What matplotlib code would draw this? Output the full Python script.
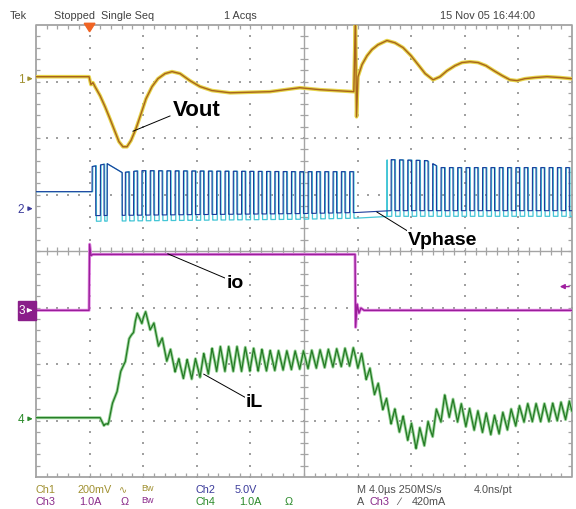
import numpy as np
import matplotlib.pyplot as plt
from matplotlib.collections import LineCollection
from matplotlib.patches import Rectangle, Polygon

# time base: 4.0 us/div, trigger one division from the left edge
t_min, t_max = -4.0, 36.0
us_per_div = 4.0

# Ch1 Vout (mV), 200 mV/div
vout_t = [-4.0, -0.04, 0.10, 0.25, 0.40, 0.78, 1.15, 1.52, 1.90, 2.19, 2.49, 2.79,
          3.09, 3.46, 3.84, 4.21, 4.66, 5.10, 5.63, 6.15, 6.75, 7.49, 8.24, 9.13,
          10.48, 13.46, 15.69, 17.19, 19.72, 19.84, 19.92, 20.03, 20.33, 20.70,
          21.07, 21.52, 22.19, 22.79, 23.39, 23.99, 24.51, 25.04, 25.63, 26.15,
          26.67, 27.27, 27.79, 28.39, 28.99, 29.58, 30.18, 30.78, 31.37, 31.90,
          32.49, 33.24, 34.14, 35.11, 36.0]
vout_mv = [7, 7, -21, -14, -28, -60, -99, -142, -188, -223, -241, -241,
           -219, -177, -124, -71, -28, 0, 18, 25, 18, -7, -28, -42,
           -50, -46, -32, -39, -46, 230, -135, 7, 50, 81,
           103, 120, 135, 127, 110, 81, 50, 18, -4, 7,
           28, 46, 57, 60, 57, 46, 28, 11, -4, -7,
           0, 4, 7, 4, 0]

# Ch3 io (A), 1.0 A/div
io_t = [-4.0, -0.04, 0.0, 0.10, 0.25, 19.81, 19.85, 19.96, 20.10, 20.25, 20.48, 36.0]
io_a = [0.0, 0.0, 1.17, 0.97, 0.99, 0.99, -0.30, 0.11, -0.05, 0.04, 0.0, 0.0]
trig_level = 0.42

# Ch4 iL (A), 1.0 A/div: mean current and half ripple
il_t = [-4.0, 0.78, 1.07, 1.37, 2.64, 3.39, 3.99, 4.51, 5.63, 6.75, 7.87, 9.36,
        11.22, 13.46, 15.69, 19.81, 20.33, 22.42, 24.51, 25.40, 26.52, 28.39,
        30.25, 32.49, 34.36, 36.0]
il_a = [0.02, 0.02, -0.12, -0.07, 1.06, 1.73, 1.82, 1.70, 1.20, 0.88, 0.88, 1.06,
        1.06, 1.03, 1.04, 1.10, 0.99, 0.09, -0.37, -0.21, 0.25, 0.00,
        -0.12, 0.11, 0.11, 0.16]
il_rip = [0.0, 0.0, 0.0, 0.04, 0.07, 0.11, 0.12, 0.12, 0.14, 0.16, 0.18, 0.22,
          0.22, 0.18, 0.16, 0.16, 0.16, 0.16, 0.19, 0.19, 0.18, 0.18,
          0.18, 0.16, 0.16, 0.16]

# Ch2 Vphase (V), 5.0 V/div
vph_idle = 1.5
vph_hi_t = [0.18, 1.31, 2.43, 3.77, 15.69, 19.81, 22.27, 25.18, 26.15, 36.0]
vph_hi_v = [3.72, 3.98, 3.19, 3.36, 3.27, 3.27, 4.34, 4.25, 3.63, 3.63]
vph_lo_t = [0.18, 15.69, 19.81, 22.42, 36.0]
vph_lo_v = [-0.62, -0.44, -0.35, -0.18, -0.18]
sw_period = 0.62
sw_duty = 0.45
sw_start = 0.18
force_high = (1.31, 2.43)
skip_pulses = (20.0, 22.2)

# screen layout: ground marker positions (div) and scales
marks = {1: 3.05, 2: 0.75, 3: -1.05, 4: -2.97}
scales = {1: 200.0, 2: 5.0, 3: 1.0, 4: 1.0}
c_ch1, c_ch2, c_ch3, c_ch4 = '#a09030', '#3a3a9a', '#8a2a8a', '#2a8a2a'

fig = plt.figure(figsize=(5.76, 5.1), dpi=100)
ax = fig.add_axes([36 / 576, 32 / 510, 536 / 576, 452 / 510])
ax.set_xlim(0, 10)
ax.set_ylim(-4, 4)
ax.axis('off')

def xdiv(t):
    return 1 + np.asarray(t) / us_per_div

def ydiv(ch, v):
    return marks[ch] + np.asarray(v) / scales[ch]

# graticule
gc = '#a4a4a4'
ax.plot([0, 10, 10, 0, 0], [-4, -4, 4, 4, -4], color=gc, lw=1.3, zorder=1, clip_on=False)
ax.plot([5, 5], [-4, 4], color=gc, lw=1.0, zorder=1)
ax.plot([0, 10], [0, 0], color=gc, lw=1.0, zorder=1)
dots_x, dots_y = [], []
for gx in range(1, 10):
    if gx == 5:
        continue
    for k in range(41):
        dots_x.append(gx); dots_y.append(-4 + 0.2 * k)
for gy in range(-3, 4):
    if gy == 0:
        continue
    for k in range(51):
        dots_x.append(0.2 * k); dots_y.append(gy)
ax.scatter(dots_x, dots_y, s=0.8, marker='s', color='#a0a0a0', linewidths=0, zorder=1)
segs = []
tx, ty = 0.075, 0.07
for k in range(1, 50):
    x = 0.2 * k
    segs += [[(x, -ty), (x, ty)], [(x, 4), (x, 4 - ty)], [(x, -4), (x, -4 + ty)]]
for k in range(1, 40):
    y = -4 + 0.2 * k
    segs += [[(5 - tx, y), (5 + tx, y)], [(0, y), (tx, y)], [(10, y), (10 - tx, y)]]
ax.add_collection(LineCollection(segs, colors=gc, linewidths=0.9, zorder=1))

# fine time grid for the traces
t = np.arange(t_min, t_max, 0.005)

# Vphase switching node
def vphase(shift, lo_off):
    ph = np.mod(t - sw_start - shift, sw_period) / sw_period
    high = ph < sw_duty
    high[(t >= force_high[0]) & (t < force_high[1])] = True
    high[(t >= skip_pulses[0]) & (t < skip_pulses[1])] = False
    v = np.where(high, np.interp(t, vph_hi_t, vph_hi_v),
                 np.interp(t, vph_lo_t, vph_lo_v) + lo_off)
    v[t < sw_start + shift] = vph_idle
    return v

ax.plot(xdiv(t), ydiv(2, vphase(0.05, -0.5)), color='#45c6d6', lw=0.9, zorder=3)
ax.plot(xdiv(t), ydiv(2, vphase(0.0, 0.0)), color='#1c3c9c', lw=0.8, zorder=3)

# inductor current with ripple
ph = np.mod(t - sw_start, sw_period) / sw_period
tri = np.where(ph < sw_duty, -1 + 2 * ph / sw_duty, 1 - 2 * (ph - sw_duty) / (1 - sw_duty))
il = np.interp(t, il_t, il_a) + np.interp(t, il_t, il_rip) * tri
ax.plot(xdiv(t), ydiv(4, il), color='#9ad49a', lw=2.2, zorder=3)
ax.plot(xdiv(t), ydiv(4, il), color='#247a24', lw=0.9, zorder=3)

ax.plot(xdiv(io_t), ydiv(3, io_a), color='#e28ae2', lw=2.2, zorder=3)
ax.plot(xdiv(io_t), ydiv(3, io_a), color='#9a1e9a', lw=1.0, zorder=3)

ax.plot(xdiv(vout_t), ydiv(1, vout_mv), color='#e6d44a', lw=2.6, zorder=3)
ax.plot(xdiv(vout_t), ydiv(1, vout_mv), color='#a8641c', lw=1.0, zorder=3)

# labels with pointer lines
lab = dict(fontweight='bold', family=['Liberation Sans', 'DejaVu Sans'],
           ha='center', va='center', zorder=6)
box = dict(facecolor='white', edgecolor='none', pad=0.5)
ax.text(2.99, 2.50, 'Vout', fontsize=16, bbox=box, **lab)
ax.plot([1.81, 2.50], [2.12, 2.39], color='black', lw=0.7, zorder=5)
ax.text(7.59, 0.21, 'Vphase', fontsize=14, bbox=box, **lab)
ax.plot([6.36, 6.94], [0.69, 0.35], color='black', lw=0.7, zorder=5)
ax.text(3.71, -0.55, 'io', fontsize=14, bbox=box, **lab)
ax.plot([2.46, 3.53], [-0.05, -0.48], color='black', lw=0.7, zorder=5)
ax.text(4.07, -2.67, 'iL', fontsize=14, bbox=box, **lab)
ax.plot([3.13, 3.92], [-2.18, -2.60], color='black', lw=0.7, zorder=5)

# trigger position and level markers
ax.add_patch(Polygon([(0.9, 4.03), (1.1, 4.03), (1.0, 3.88)], closed=True,
                     color='#f06424', clip_on=False, zorder=6))
ax.annotate('', xy=(9.72, ydiv(3, trig_level)), xytext=(10.0, ydiv(3, trig_level)),
            arrowprops=dict(arrowstyle='-|>', color='#a020a0', lw=1.0,
                            mutation_scale=7), annotation_clip=False)

# channel ground markers
small = dict(fontsize=8.5, family=['Liberation Sans', 'DejaVu Sans'], va='center')
for ch, col in [(1, c_ch1), (2, c_ch2), (4, c_ch4)]:
    ax.text(-0.22, marks[ch], str(ch), color=col, ha='right', **small)
    ax.annotate('', xy=(-0.01, marks[ch]), xytext=(-0.18, marks[ch]),
                arrowprops=dict(arrowstyle='-|>', color=col, lw=0.9, mutation_scale=6),
                annotation_clip=False)
ax.add_patch(Rectangle((-0.34, marks[3] - 0.17), 0.34, 0.34, color='#8a1e8a',
                       clip_on=False, zorder=6))
ax.text(-0.26, marks[3], '3', color='white', ha='center', zorder=7, **small)
ax.annotate('', xy=(-0.02, marks[3]), xytext=(-0.16, marks[3]),
            arrowprops=dict(arrowstyle='-|>', color='white', lw=0.9, mutation_scale=6),
            annotation_clip=False, zorder=7)

# header and footer text
def ftxt(px, py, s, col, size=7.8):
    fig.text(px / 576, 1 - py / 510, s, color=col, fontsize=size, va='center',
             family=['Liberation Sans', 'DejaVu Sans'])

ftxt(10, 16, 'Tek', '#404040')
ftxt(54, 16, 'Stopped  Single Seq', '#404040')
ftxt(224, 16, '1 Acqs', '#404040')
ftxt(440, 16, '15 Nov 05 16:44:00', '#404040')

ftxt(36, 490, 'Ch1', c_ch1)
ftxt(78, 490, '200mV', c_ch1)
ftxt(119, 490, '\u223f', c_ch1, 7)
ftxt(141, 489, 'Bw', c_ch1, 6.5)
ftxt(196, 490, 'Ch2', c_ch2)
ftxt(235, 490, '5.0V', c_ch2)
ftxt(357, 490, 'M 4.0\u00b5s 250MS/s', '#505050')
ftxt(474, 490, '4.0ns/pt', '#505050')

ftxt(36, 502, 'Ch3', c_ch3)
ftxt(79, 502, '1.0A', c_ch3)
ftxt(121, 502, '\u03a9', c_ch3)
ftxt(141, 501, 'Bw', c_ch3, 6.5)
ftxt(196, 502, 'Ch4', c_ch4)
ftxt(239, 502, '1.0A', c_ch4)
ftxt(285, 502, '\u03a9', c_ch4)
ftxt(357, 502, 'A', '#505050')
ftxt(369, 502, 'Ch3', c_ch3)
ftxt(398, 502, '\u2215', '#505050')
ftxt(412, 502, '420mA', '#505050')

fig.savefig('out.png', dpi=100)
